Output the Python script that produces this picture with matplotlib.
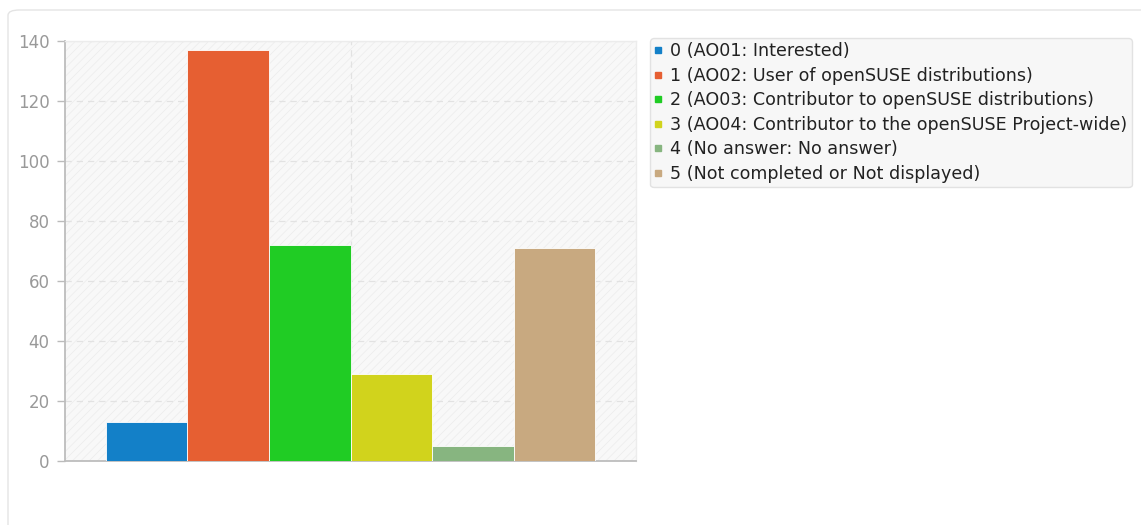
import matplotlib
matplotlib.use("Agg")
import matplotlib.pyplot as plt
from matplotlib.patches import Rectangle, FancyBboxPatch
from matplotlib.lines import Line2D

plt.rcParams["font.family"] = ["DejaVu Sans"]
plt.rcParams["hatch.linewidth"] = 0.6

# data
labels = ["0 (AO01: Interested)",
          "1 (AO02: User of openSUSE distributions)",
          "2 (AO03: Contributor to openSUSE distributions)",
          "3 (AO04: Contributor to the openSUSE Project-wide)",
          "4 (No answer: No answer)",
          "5 (Not completed or Not displayed)"]
counts = [13, 137, 72, 29, 5, 71]
colors = ["#1380c8", "#e65f32", "#20cc24", "#d1d31c", "#87b580", "#c8a980"]
yticks = [0, 20, 40, 60, 80, 100, 120, 140]

fig = plt.figure(figsize=(11.41, 5.25), dpi=100)

# outer card frame
card = FancyBboxPatch((8 / 1141, -0.05), 1.2, 1 - 10 / 525 + 0.05,
                      boxstyle="round,pad=0,rounding_size=0.01",
                      transform=fig.transFigure, facecolor="white",
                      edgecolor="#e4e4e4", linewidth=1.0, zorder=-5)
fig.patches.append(card)

ax = fig.add_axes([65 / 1141, 64 / 525, 571 / 1141, 420 / 525])
ax.set_facecolor("none")
bg = Rectangle((0, 0), 1, 1, transform=ax.transAxes, facecolor="#f8f8f8",
               edgecolor="#ededed", hatch="////", linewidth=0, zorder=0)
ax.add_patch(bg)

n = len(counts)
xs = [i - (n - 1) / 2 for i in range(n)]
ax.bar(xs, counts, width=1.0, color=colors, edgecolor="white", linewidth=0.6, zorder=3)

ax.set_xlim(-3.5, 3.5)
ax.set_ylim(0, 140)
ax.set_yticks(yticks)
ax.set_xticks([0])
ax.set_xticklabels([""])
ax.tick_params(axis="x", length=0)
ax.tick_params(axis="y", colors="#bbbbbb", labelcolor="#999999", labelsize=12,
               length=6, width=1, pad=5)
ax.grid(True, color="#e2e2e2", linestyle=(0, (5, 4)), linewidth=0.9, zorder=1)

for s in ["left", "bottom"]:
    ax.spines[s].set_color("#bdbdbd")
    ax.spines[s].set_linewidth(1.3)
for s in ["top", "right"]:
    ax.spines[s].set_color("#ececec")
    ax.spines[s].set_linewidth(1.0)

handles = [Line2D([], [], marker="s", linestyle="", markersize=4,
                  markerfacecolor=c, markeredgecolor=c) for c in colors]
leg = fig.legend(handles, labels, loc="upper left",
                 bbox_to_anchor=(650 / 1141, 1 - 38 / 525),
                 fontsize=12.6, frameon=True, fancybox=True, shadow=False,
                 handlelength=0.4, handletextpad=0.5, labelspacing=0.37,
                 borderpad=0.25, borderaxespad=0)
leg.get_frame().set_facecolor("#f7f7f7")
leg.get_frame().set_edgecolor("#e2e2e2")
leg.get_frame().set_alpha(1)
for t in leg.get_texts():
    t.set_color("#222222")

fig.savefig("out.png", dpi=100)
